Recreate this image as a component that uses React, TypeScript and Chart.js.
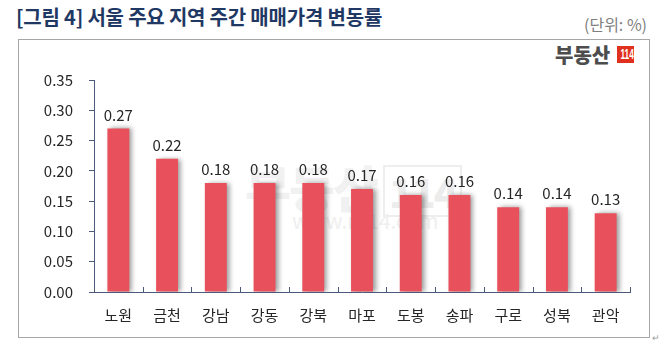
import React, { useEffect, useRef } from "react";
import { Chart, registerables } from "chart.js";

Chart.register(...registerables);

const categories = ["노원", "금천", "강남", "강동", "강북", "마포", "도봉", "송파", "구로", "성북", "관악"];
const values = [0.27, 0.22, 0.18, 0.18, 0.18, 0.17, 0.16, 0.16, 0.14, 0.14, 0.13];
const yMin = 0;
const yMax = 0.35;
const yStep = 0.05;
const titleText = "[그림 4] 서울 주요 지역 주간 매매가격 변동률";
const unitText = "(단위: %)";

const FONT = '"Noto Sans CJK KR", "Noto Sans", sans-serif';
const AXIS = "#4a5a78";
const BAR = "#e8505b";
const TEXT = "#262626";

const shadowPlugin = {
  id: "barShadow",
  beforeDatasetsDraw(chart: any) {
    const ctx = chart.ctx;
    ctx.save();
    ctx.shadowColor = "rgba(0,0,0,0.4)";
    ctx.shadowOffsetX = 3;
    ctx.shadowOffsetY = 0;
    ctx.shadowBlur = 5;
  },
  afterDatasetsDraw(chart: any) {
    chart.ctx.restore();
  },
};

const decoPlugin = {
  id: "deco",
  afterDraw(chart: any) {
    const ctx = chart.ctx;
    const x = chart.scales.x;
    const area = chart.chartArea;
    ctx.save();
    ctx.strokeStyle = AXIS;
    ctx.lineWidth = 1;
    const n = categories.length;
    for (let i = 0; i <= n; i++) {
      const px = Math.round(x.getPixelForValue(i - 0.5)) + 0.5;
      ctx.beginPath();
      ctx.moveTo(px, area.bottom);
      ctx.lineTo(px, area.bottom - 5);
      ctx.stroke();
    }
    const meta = chart.getDatasetMeta(0);
    ctx.fillStyle = TEXT;
    ctx.font = `15px ${FONT}`;
    ctx.textAlign = "center";
    ctx.textBaseline = "bottom";
    meta.data.forEach((bar: any, i: number) => {
      ctx.fillText(values[i].toFixed(2), bar.x, bar.y - 6);
    });
    ctx.restore();
  },
};

function BarChart() {
  const ref = useRef<HTMLCanvasElement | null>(null);
  useEffect(() => {
    if (!ref.current) return;
    const chart = new Chart(ref.current, {
      type: "bar",
      data: {
        labels: categories,
        datasets: [
          {
            data: values,
            backgroundColor: BAR,
            borderWidth: 0,
            barPercentage: 0.45,
            categoryPercentage: 1,
          },
        ],
      },
      options: {
        animation: false,
        responsive: false,
        maintainAspectRatio: false,
        layout: { padding: { left: 0, top: 40, right: 19, bottom: 0 } },
        plugins: {
          legend: { display: false },
          tooltip: { enabled: false },
          title: { display: false },
        },
        scales: {
          x: {
            offset: true,
            grid: { display: false, drawTicks: false },
            border: { display: true, color: AXIS, width: 1 },
            ticks: {
              color: TEXT,
              font: { family: FONT, size: 15 },
              padding: 14,
              maxRotation: 0,
              autoSkip: false,
            },
            afterFit: (s: any) => {
              s.height = 45;
            },
          },
          y: {
            min: yMin,
            max: yMax,
            grid: { drawOnChartArea: false, drawTicks: true, tickLength: 5, color: AXIS },
            border: { display: true, color: AXIS, width: 1 },
            ticks: {
              stepSize: yStep,
              color: TEXT,
              font: { family: FONT, size: 15 },
              padding: 16,
              callback: (v: any) => Number(v).toFixed(2),
            },
            afterFit: (s: any) => {
              s.width = 75;
            },
          },
        },
      },
      plugins: [shadowPlugin, decoPlugin],
    });
    return () => chart.destroy();
  }, []);
  return (
    <canvas
      ref={ref}
      width={630}
      height={297}
      style={{ position: "absolute", left: 19, top: 40, width: 630, height: 297 }}
    />
  );
}

export default function App() {
  return (
    <div
      style={{
        position: "absolute",
        left: 0,
        top: 0,
        width: 666,
        height: 351,
        background: "#ffffff",
        overflow: "hidden",
        fontFamily: FONT,
      }}
    >
      <div
        style={{
          position: "absolute",
          left: 16,
          top: 2,
          fontSize: 20,
          fontWeight: 700,
          color: "#1f3864",
          letterSpacing: -0.2,
          whiteSpace: "nowrap",
        }}
      >
        {titleText}
      </div>
      <div
        style={{
          position: "absolute",
          left: 584,
          top: 12,
          fontSize: 16,
          color: "#7f7f7f",
          whiteSpace: "nowrap",
        }}
      >
        {unitText}
      </div>
      <div
        style={{
          position: "absolute",
          left: 18,
          top: 39,
          width: 632,
          height: 299,
          border: "1px solid #a6a6a6",
          boxSizing: "border-box",
        }}
      />
      {/* watermark */}
      <div
        style={{
          position: "absolute",
          left: 245,
          top: 150,
          fontSize: 50,
          fontWeight: 900,
          color: "#f1f1f1",
          whiteSpace: "nowrap",
          letterSpacing: -2,
        }}
      >
        부동산
        <span
          style={{
            display: "inline-block",
            marginLeft: 6,
            padding: "0 4px",
            border: "2px solid #eeeeee",
            color: "#ececec",
            fontSize: 40,
            lineHeight: "48px",
          }}
        >
          114
        </span>
      </div>
      <div
        style={{
          position: "absolute",
          left: 292,
          top: 205,
          fontSize: 21,
          color: "#efefef",
          whiteSpace: "nowrap",
        }}
      >
        www.r114.com
      </div>
      {/* logo */}
      <div
        style={{
          position: "absolute",
          left: 555,
          top: 45,
          fontSize: 20,
          fontWeight: 900,
          color: "#4d4d4d",
          whiteSpace: "nowrap",
          letterSpacing: 0,
          lineHeight: "20px",
        }}
      >
        부동산
      </div>
      <div
        style={{
          position: "absolute",
          left: 617,
          top: 46,
          width: 17,
          height: 17,
          background: "#e0301e",
          overflow: "hidden",
        }}
      >
        <div
          style={{
            color: "#ffffff",
            fontSize: 14,
            fontWeight: 700,
            lineHeight: "17px",
            textAlign: "center",
            width: 17,
            transform: "scaleX(0.6)",
            fontFamily: '"Liberation Sans", "DejaVu Sans", sans-serif',
          }}
        >
          114
        </div>
      </div>
      <BarChart />
      <div
        style={{
          position: "absolute",
          left: 652,
          top: 331,
          fontSize: 9,
          color: "#9a9a9a",
        }}
      >
        ↵
      </div>
    </div>
  );
}
